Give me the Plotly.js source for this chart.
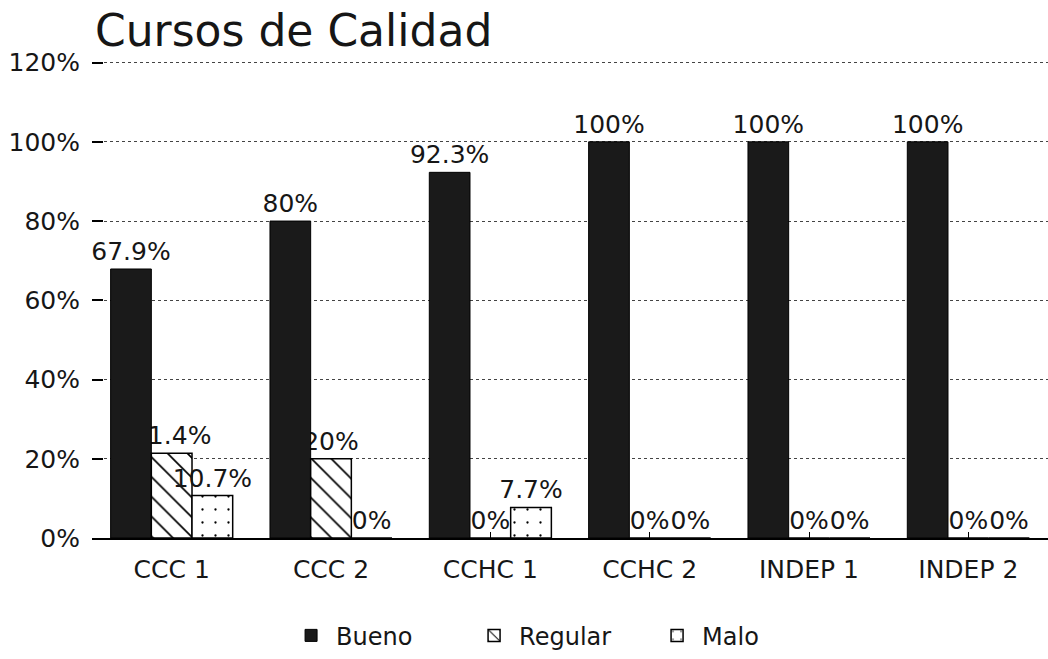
<!DOCTYPE html>
<html>
<head>
<meta charset="utf-8">
<script src="https://cdn.plot.ly/plotly-3.0.1.min.js"></script>
<style>html,body{margin:0;padding:0;background:#fff;}#chart{width:1048px;height:659px;}</style>
</head>
<body>
<div id="chart"></div>
<script>
const categories = ["CCC 1", "CCC 2", "CCHC 1", "CCHC 2", "INDEP 1", "INDEP 2"];
const seriesNames = ["Bueno", "Regular", "Malo"];
const bueno = [67.9, 80, 92.3, 100, 100, 100];
const regular = [21.4, 20, 0, 0, 0, 0];
const malo = [10.7, 0, 7.7, 0, 0, 0];
const yTicks = [0, 20, 40, 60, 80, 100, 120];

const FONT = "DejaVu Sans, Liberation Sans, sans-serif";
const INK = "#161616";

const markers = [
  {color: "#1a1a1a", line: {color: "#000", width: 1}},
  {color: "#fff", line: {color: "#000", width: 1.5},
   pattern: {shape: "\\", fgcolor: "#000", bgcolor: "#fff", size: 14, solidity: 0.12}},
  {color: "#fff", line: {color: "#000", width: 1.5},
   pattern: {shape: ".", fgcolor: "#000", bgcolor: "#fff", size: 13, solidity: 0.025}}
];
const values = [bueno, regular, malo];
const groups = ["b", "r", "m"];

function labelTrace(i) {
  const vals = values[i];
  return {
    type: "bar", x: categories, y: vals,
    offsetgroup: groups[i],
    text: vals.map(v => v + "%"),
    textposition: "outside",
    constraintext: "none",
    cliponaxis: false,
    textfont: {family: FONT, size: 25, color: INK},
    marker: {color: "rgba(0,0,0,0)", line: {width: 0}},
    showlegend: false, hoverinfo: "skip"
  };
}
function barTrace(i) {
  return {
    type: "bar", x: categories, y: values[i],
    offsetgroup: groups[i],
    name: seriesNames[i],
    marker: markers[i],
    hoverinfo: "skip"
  };
}

// Drawing order mimics the original: Bueno/Regular labels lie under the bars,
// Malo labels are drawn last on top.
const traces = [labelTrace(0), labelTrace(1), barTrace(0), barTrace(1), barTrace(2), labelTrace(2)];

const layout = {
  width: 1048, height: 659,
  paper_bgcolor: "#fff", plot_bgcolor: "#fff",
  margin: {l: 92, r: 0, t: 61, b: 121},
  barmode: "group",
  bargap: 0.234,
  bargroupgap: 0,
  font: {family: FONT, color: INK},
  title: {
    text: "Cursos de Calidad",
    font: {family: FONT, size: 44, color: INK},
    xref: "container", x: 0.0906, xanchor: "left",
    yref: "container", y: 0.953, yanchor: "middle"
  },
  xaxis: {
    showline: true, linecolor: "#000", linewidth: 2,
    ticks: "inside", ticklen: 6, tickcolor: "#000", tickwidth: 1,
    ticklabelstandoff: 8,
    tickfont: {family: FONT, size: 25, color: INK},
    showgrid: false, fixedrange: true, layer: "below traces"
  },
  yaxis: {
    range: [0, 120.4],
    tickvals: yTicks,
    ticktext: yTicks.map(v => v + "%"),
    ticks: "inside", ticklen: 11, tickcolor: "#000", tickwidth: 2,
    ticklabelstandoff: 11,
    tickfont: {family: FONT, size: 25, color: INK},
    showgrid: true, gridcolor: "#444", griddash: "dot", gridwidth: 1,
    zeroline: false, showline: false, fixedrange: true, layer: "above traces"
  },
  legend: {
    orientation: "h", x: 0.203, xanchor: "left", y: -0.205, yanchor: "middle",
    font: {family: FONT, size: 24, color: INK},
    itemwidth: 40, entrywidth: 128, traceorder: "normal"
  },
  showlegend: true
};

Plotly.newPlot("chart", traces, layout, {displayModeBar: false, staticPlot: true});
</script>
</body>
</html>
